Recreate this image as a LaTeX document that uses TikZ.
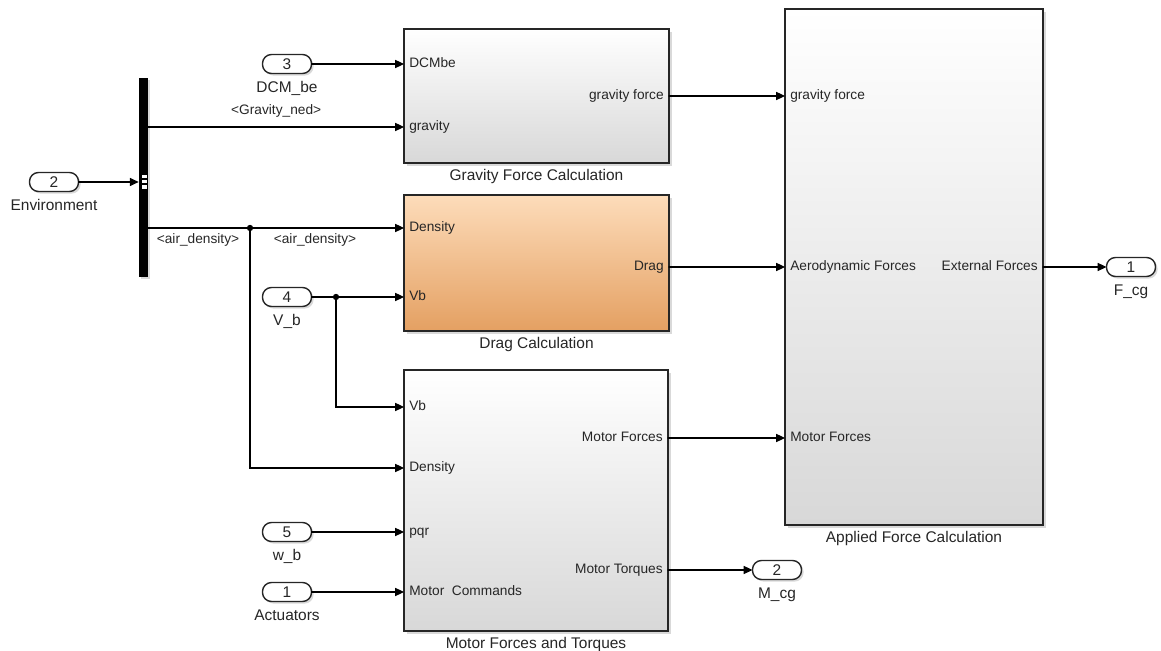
\documentclass[tikz,border=0pt]{standalone}
\usepackage{fontspec}
\setmainfont{Liberation Sans}
\usetikzlibrary{arrows.meta,positioning,shadows}
\definecolor{blkgray}{RGB}{216,216,216}
\definecolor{dragtop}{RGB}{253,220,186}
\definecolor{dragbot}{RGB}{228,160,98}
\definecolor{txtgray}{RGB}{38,38,38}

\tikzset{
  blk/.style={draw=black!85, line width=0.9pt, inner sep=0pt, outer sep=0pt,
    top color=white, bottom color=blkgray,
    drop shadow={shadow xshift=1.6pt, shadow yshift=-1.6pt, opacity=0.3}},
  dragblk/.style={blk, top color=dragtop, bottom color=dragbot},
  portin/.style={font=\fontsize{7.8}{9}\selectfont, text=txtgray, anchor=west,
    inner xsep=3pt, inner ysep=0pt, outer sep=0pt, text height=5.8pt, text depth=1.4pt},
  portout/.style={portin, anchor=east},
  blkcap/.style={font=\fontsize{8.8}{10}\selectfont, text=txtgray, inner sep=0pt,
    text height=6.5pt, text depth=1.5pt},
  sig/.style={font=\fontsize{7.8}{9}\selectfont, text=txtgray, inner sep=0pt},
  io/.style={draw=black!85, line width=0.8pt, rounded corners=0.18cm,
    minimum width=0.98cm, minimum height=0.38cm, inner sep=0pt, outer sep=0pt,
    fill=white, font=\fontsize{8.8}{10}\selectfont, text=txtgray,
    drop shadow={shadow xshift=1.2pt, shadow yshift=-1.2pt, opacity=0.3}},
  wire/.style={line width=0.6pt, -{Triangle[length=5pt,width=4.6pt]}},
  dot/.style={circle, fill, inner sep=0pt, minimum size=3.6pt}
}

\begin{document}
\begin{tikzpicture}[x=0.02cm, y=-0.02cm, line cap=round]
  \useasboundingbox (0,0) rectangle (1161,651);

  % subsystems
  \node[blk, minimum width=5.3cm, minimum height=2.68cm] (grav) at (536.5,96) {};
  \node[dragblk, minimum width=5.3cm, minimum height=2.72cm] (drag) at (536.5,263) {};
  \node[blk, minimum width=5.28cm, minimum height=5.22cm] (motor) at (536,500.5) {};
  \node[blk, minimum width=5.16cm, minimum height=10.32cm] (appl) at (914,267) {};
  \node[blkcap, below=3.4pt of grav] {Gravity Force Calculation};
  \node[blkcap, below=3.4pt of drag] {Drag Calculation};
  \node[blkcap, below=3.4pt of motor] {Motor Forces and Torques};
  \node[blkcap, below=3.4pt of appl] {Applied Force Calculation};

  % ports of the subsystems
  \node[portin] (g-dcm) at (grav.west |- 0,64) {DCMbe};
  \node[portin] (g-grav) at (grav.west |- 0,127) {gravity};
  \node[portout] (g-out) at (grav.east |- 0,96) {gravity force};
  \node[portin] (d-dens) at (drag.west |- 0,228) {Density};
  \node[portin] (d-vb) at (drag.west |- 0,297) {Vb};
  \node[portout] (d-out) at (drag.east |- 0,267) {Drag};
  \node[portin] (m-vb) at (motor.west |- 0,407) {Vb};
  \node[portin] (m-dens) at (motor.west |- 0,468) {Density};
  \node[portin] (m-pqr) at (motor.west |- 0,532) {pqr};
  \node[portin] (m-cmd) at (motor.west |- 0,592) {Motor\ \ Commands};
  \node[portout] (m-frc) at (motor.east |- 0,438) {Motor Forces};
  \node[portout] (m-trq) at (motor.east |- 0,570) {Motor Torques};
  \node[portin] (a-grav) at (appl.west |- 0,96) {gravity force};
  \node[portin] (a-aero) at (appl.west |- 0,267) {Aerodynamic Forces};
  \node[portin] (a-mot) at (appl.west |- 0,438) {Motor Forces};
  \node[portout] (a-ext) at (appl.east |- 0,267) {External Forces};

  % inports and outports
  \node[io] (in2) at (54,182) {2};
  \node[io] (in3) at (287,64) {3};
  \node[io] (in4) at (287,297) {4};
  \node[io] (in5) at (287,532) {5};
  \node[io] (in1) at (287,592) {1};
  \node[io] (out1) at (1131,267) {1};
  \node[io] (out2) at (777,570) {2};
  \foreach \p/\t in {in2/Environment,in3/DCM\_be,in4/V\_b,in5/w\_b,in1/Actuators,out1/F\_cg,out2/M\_cg}
    \node[blkcap, below=4.4pt of \p] {\t};

  % bus selector
  \node[fill=black, minimum width=0.18cm, minimum height=3.98cm, inner sep=0pt,
    drop shadow={shadow xshift=1.2pt, shadow yshift=-1.2pt, opacity=0.3}] (bus) at (143.5,177.5) {};
  \filldraw[fill=white, draw=black, line width=0.4pt] (141,174) rectangle (147,189);
  \draw[line width=0.6pt] (141,179) -- (147,179) (141,184) -- (147,184);

  % signals
  \draw[wire] (in2.east) -- (in2.east -| bus.west);
  \draw[wire] (in3.east) -- (g-dcm.west);
  \draw[wire] (bus.east |- g-grav) -- node[sig, above=5pt] {<Gravity\_ned>} (g-grav.west);
  \draw[wire] (bus.east |- d-dens) -- (d-dens.west);
  \node[dot] (j1) at (250,228) {};
  \node[sig] at (198,240) {<air\_density>};
  \node[sig] at (315,240) {<air\_density>};
  \draw[wire] (j1.center) |- (m-dens.west);
  \draw[wire] (in4.east) -- (d-vb.west);
  \node[dot] (j2) at (336,297) {};
  \draw[wire] (j2.center) |- (m-vb.west);
  \draw[wire] (in5.east) -- (m-pqr.west);
  \draw[wire] (in1.east) -- (m-cmd.west);
  \draw[wire] (g-out.east) -- (a-grav.west);
  \draw[wire] (d-out.east) -- (a-aero.west);
  \draw[wire] (m-frc.east) -- (a-mot.west);
  \draw[wire] (m-trq.east) -- (out2.west);
  \draw[wire] (a-ext.east) -- (out1.west);
\end{tikzpicture}
\end{document}
